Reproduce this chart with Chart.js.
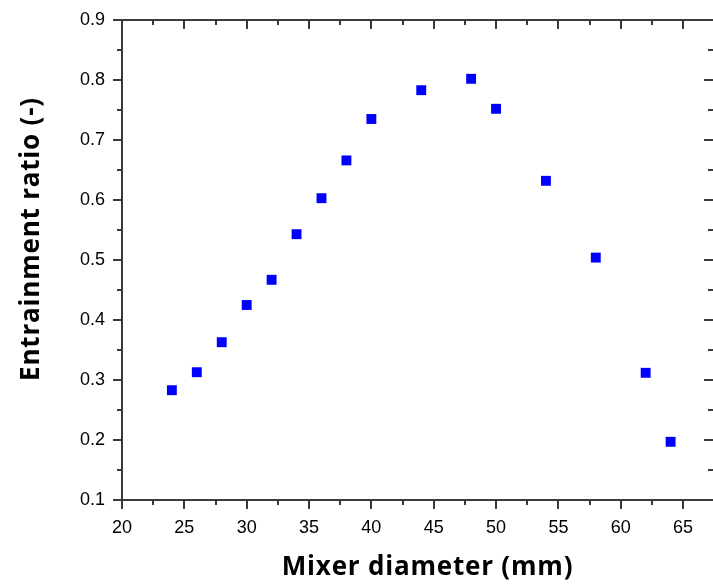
<!DOCTYPE html>
<html>
<head>
<meta charset="utf-8">
<script src="https://cdn.jsdelivr.net/npm/chart.js@4/dist/chart.umd.min.js"></script>
<style>
  html, body { margin: 0; padding: 0; background: #ffffff; }
  #wrap { width: 713px; height: 585px; }
</style>
</head>
<body>
<div id="wrap"><canvas id="ratioChart" width="713" height="585"></canvas></div>
<script>
// mixer diameter (mm) and measured entrainment ratio
const diameters = [24, 26, 28, 30, 32, 34, 36, 38, 40, 44, 48, 50, 54, 58, 62, 64];
const ratios = [0.283, 0.313, 0.363, 0.425, 0.467, 0.543, 0.603, 0.666, 0.735, 0.783, 0.802, 0.752, 0.632, 0.504, 0.312, 0.197];

const xTitle = "Mixer diameter (mm)";
const yTitle = "Entrainment ratio (-)";

const axisColor = "#3a3a3a";
const majorLen = 9;
const minorLen = 5;
const tickFont = { family: "'Liberation Sans', Arial, sans-serif", size: 18 };

// minor ticks halfway between the major ones, plus the mirrored top / right frame
const frameTicks = {
  id: "frameTicks",
  afterDraw(chart) {
    const { ctx, chartArea } = chart;
    const xs = chart.scales.x;
    const ys = chart.scales.y;
    const { left, right, top, bottom } = chartArea;

    const mids = (scale) => {
      const out = [];
      for (let i = 0; i < scale.ticks.length - 1; i++) {
        out.push((scale.ticks[i].value + scale.ticks[i + 1].value) / 2);
      }
      return out;
    };

    ctx.save();
    ctx.strokeStyle = axisColor;
    ctx.lineWidth = 2;

    // top frame line
    ctx.beginPath();
    ctx.moveTo(left - 1, top);
    ctx.lineTo(right, top);
    ctx.stroke();

    ctx.beginPath();
    xs.ticks.forEach((t) => {
      const px = Math.round(xs.getPixelForValue(t.value));
      ctx.moveTo(px, top);
      ctx.lineTo(px, top + majorLen);
    });
    mids(xs).forEach((v) => {
      const px = Math.round(xs.getPixelForValue(v));
      ctx.moveTo(px, top);
      ctx.lineTo(px, top + minorLen);
      ctx.moveTo(px, bottom);
      ctx.lineTo(px, bottom + minorLen);
    });
    ys.ticks.forEach((t) => {
      const py = Math.round(ys.getPixelForValue(t.value));
      ctx.moveTo(right, py);
      ctx.lineTo(right - majorLen, py);
    });
    mids(ys).forEach((v) => {
      const py = Math.round(ys.getPixelForValue(v));
      ctx.moveTo(right, py);
      ctx.lineTo(right - minorLen, py);
      ctx.moveTo(left, py);
      ctx.lineTo(left - minorLen, py);
    });
    ctx.stroke();

    // axis titles
    ctx.fillStyle = "#000000";
    ctx.font = "bold 26px 'Open Sans'";
    ctx.letterSpacing = "0.8px";
    ctx.textAlign = "center";
    ctx.textBaseline = "alphabetic";
    ctx.fillText(xTitle, (left + right) / 2 + 10, bottom + 75);

    ctx.translate(39, (top + bottom) / 2 - 21);
    ctx.rotate(-Math.PI / 2);
    ctx.fillText(yTitle, 0, 0);
    ctx.restore();
  },
};

new Chart(document.getElementById("ratioChart"), {
  type: "scatter",
  data: {
    datasets: [
      {
        label: "Entrainment ratio",
        data: diameters.map((d, i) => ({ x: d, y: ratios[i] })),
        pointStyle: "rect",
        pointRadius: 7,
        pointHoverRadius: 7,
        backgroundColor: "#0000ff",
        borderWidth: 0,
      },
    ],
  },
  options: {
    responsive: false,
    animation: false,
    devicePixelRatio: 1,
    layout: { autoPadding: false, padding: { top: 20, left: 0, right: 0, bottom: 0 } },
    plugins: {
      legend: { display: false },
      tooltip: { enabled: false },
    },
    scales: {
      x: {
        type: "linear",
        min: 20,
        max: 67.4,
        afterFit(scale) {
          scale.height = 85;
        },
        ticks: {
          stepSize: 5,
          includeBounds: false,
          padding: 8,
          color: "#000000",
          font: tickFont,
        },
        grid: {
          drawOnChartArea: false,
          drawTicks: true,
          tickLength: majorLen,
          tickColor: axisColor,
          lineWidth: 2,
        },
        border: { display: true, color: axisColor, width: 2 },
      },
      y: {
        type: "linear",
        min: 0.1,
        max: 0.9,
        afterFit(scale) {
          scale.width = 122;
        },
        ticks: {
          stepSize: 0.1,
          includeBounds: false,
          padding: 8,
          color: "#000000",
          font: tickFont,
          callback: (v) => v.toFixed(1),
        },
        grid: {
          drawOnChartArea: false,
          drawTicks: true,
          tickLength: majorLen,
          tickColor: axisColor,
          lineWidth: 2,
        },
        border: { display: true, color: axisColor, width: 2 },
      },
    },
  },
  plugins: [frameTicks],
});
</script>
</body>
</html>
